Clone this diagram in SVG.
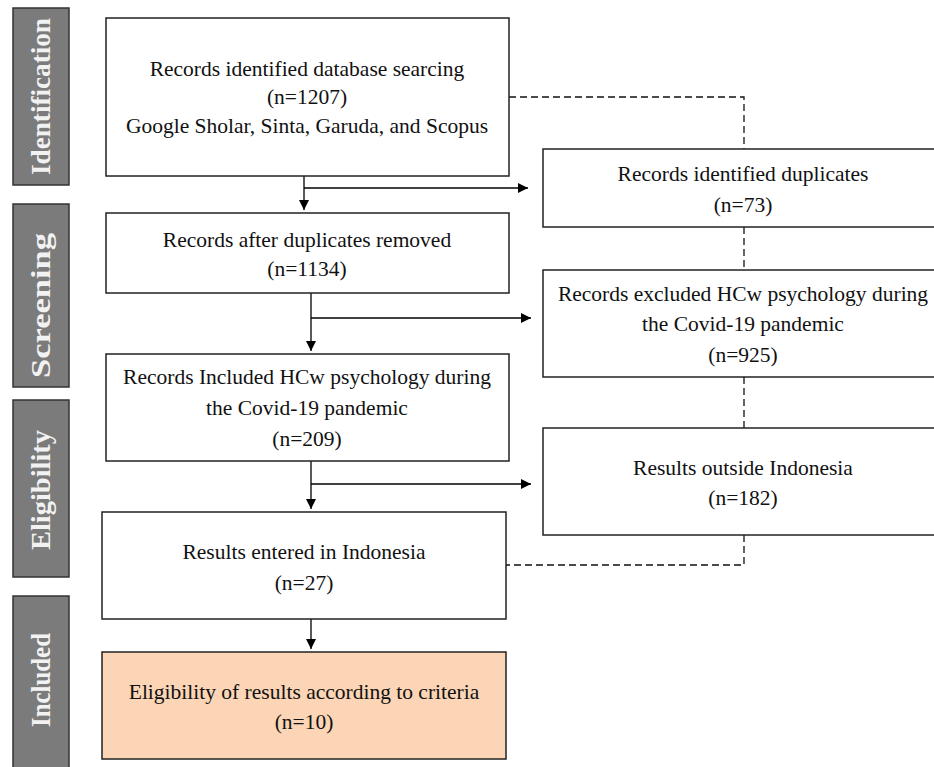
<svg xmlns="http://www.w3.org/2000/svg" width="934" height="767" viewBox="0 0 934 767">
<defs>
<marker id="ah" viewBox="0 0 10 10" refX="10" refY="5" markerWidth="10" markerHeight="10" markerUnits="userSpaceOnUse" orient="auto">
<path d="M0,0 L10,5 L0,10 z" fill="#000"/>
</marker>
<style>
.phase{fill:#7b7b7b;stroke:#333;stroke-width:1.5}
.ptxt{font-family:"Liberation Serif",serif;font-weight:bold;font-size:27px;fill:#f2f2f2;text-anchor:middle}
.box{fill:#fff;stroke:#222;stroke-width:1.5}
.inc{fill:#fbd5b5;stroke:#222;stroke-width:1.5}
.t{font-family:"Liberation Serif",serif;font-size:21.5px;fill:#111;text-anchor:middle}
.ln{fill:none;stroke:#000;stroke-width:1.3}
.dash{fill:none;stroke:#111;stroke-width:1.3;stroke-dasharray:7,4}
</style>
</defs>
<rect width="934" height="767" fill="#fff"/>

<g id="phase-identification"><rect class="phase" x="13" y="8" width="56" height="177"/><text class="ptxt" transform="translate(50,96.5) rotate(-90)" textLength="157" lengthAdjust="spacingAndGlyphs">Identification</text></g>
<g id="phase-screening"><rect class="phase" x="13" y="204" width="56" height="183"/><text class="ptxt" transform="translate(50,305.5) rotate(-90)" textLength="145" lengthAdjust="spacingAndGlyphs">Screening</text></g>
<g id="phase-eligibility"><rect class="phase" x="13" y="400" width="56" height="177"/><text class="ptxt" transform="translate(50,490) rotate(-90)" textLength="120" lengthAdjust="spacingAndGlyphs">Eligibility</text></g>
<g id="phase-included"><rect class="phase" x="13" y="596" width="56" height="180"/><text class="ptxt" transform="translate(50,680) rotate(-90)" textLength="94" lengthAdjust="spacingAndGlyphs">Included</text></g>

<g id="connectors">
<path class="ln" d="M304,176 V210" marker-end="url(#ah)"/>
<path class="ln" d="M304,188 H528" marker-end="url(#ah)"/>
<path class="ln" d="M311,293 V351" marker-end="url(#ah)"/>
<path class="ln" d="M311,318 H531" marker-end="url(#ah)"/>
<path class="ln" d="M311,461 V509" marker-end="url(#ah)"/>
<path class="ln" d="M311,484 H531" marker-end="url(#ah)"/>
<path class="ln" d="M311,619 V649" marker-end="url(#ah)"/>
<path class="dash" d="M509,97 H744 V149"/>
<path class="dash" d="M744,227 V270"/>
<path class="dash" d="M744,377 V428"/>
<path class="dash" d="M744,535 V565 H506"/>
</g>

<g id="box-identified"><rect class="box" x="106" y="18" width="403" height="158"/>
<text class="t" x="307" y="76">Records identified  database searcing</text>
<text class="t" x="307" y="104">(n=1207)</text>
<text class="t" x="307" y="133">Google Sholar, Sinta, Garuda, and Scopus</text></g>

<g id="box-after-dup"><rect class="box" x="106" y="213" width="403" height="80"/>
<text class="t" x="307" y="247">Records after duplicates removed</text>
<text class="t" x="307" y="276">(n=1134)</text></g>

<g id="box-included-hcw"><rect class="box" x="106" y="354" width="403" height="107"/>
<text class="t" x="307" y="384">Records Included HCw psychology during</text>
<text class="t" x="307" y="415">the Covid-19 pandemic</text>
<text class="t" x="307" y="446">(n=209)</text></g>

<g id="box-indonesia"><rect class="box" x="102" y="512" width="404" height="107"/>
<text class="t" x="304" y="559">Results entered in  Indonesia</text>
<text class="t" x="304" y="590">(n=27)</text></g>

<g id="box-eligible"><rect class="inc" x="102" y="652" width="404" height="107"/>
<text class="t" x="304" y="699">Eligibility  of results according to criteria</text>
<text class="t" x="304" y="729">(n=10)</text></g>

<g id="box-duplicates"><rect class="box" x="543" y="149" width="400" height="78"/>
<text class="t" x="743" y="181">Records identified  duplicates</text>
<text class="t" x="743" y="212">(n=73)</text></g>

<g id="box-excluded"><rect class="box" x="543" y="270" width="400" height="107"/>
<text class="t" x="743" y="301">Records excluded HCw psychology during</text>
<text class="t" x="743" y="331">the Covid-19  pandemic</text>
<text class="t" x="743" y="362">(n=925)</text></g>

<g id="box-outside"><rect class="box" x="543" y="428" width="400" height="107"/>
<text class="t" x="743" y="475">Results outside Indonesia</text>
<text class="t" x="743" y="505">(n=182)</text></g>
</svg>
